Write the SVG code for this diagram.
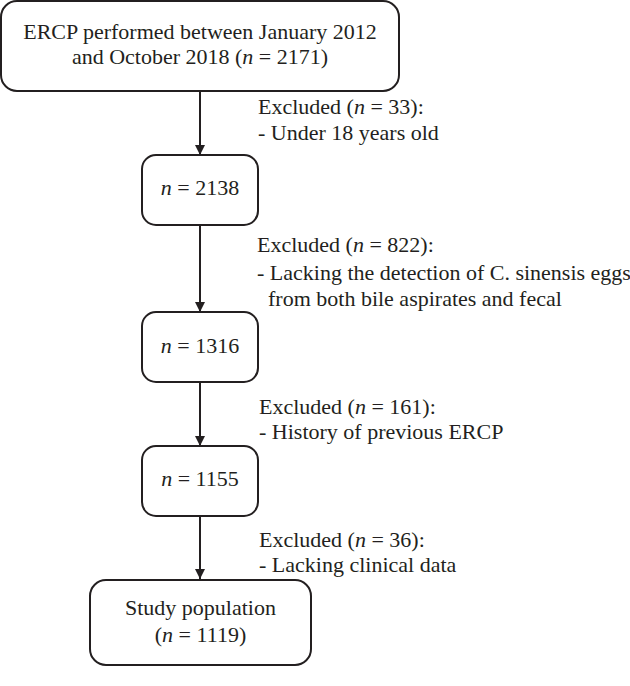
<svg xmlns="http://www.w3.org/2000/svg" width="630" height="686" viewBox="0 0 630 686">
<defs>
<style>
.box{fill:#fff;stroke:#231f20;stroke-width:2}
.t{font-family:"Liberation Serif","Times New Roman",serif;font-size:22px;fill:#231f20}
.c{text-anchor:middle}
.i{font-style:italic}
.ln{stroke:#231f20;stroke-width:2;fill:none}
</style>
<marker id="ah" viewBox="0 0 10 10" refX="10" refY="5" markerWidth="10" markerHeight="10" markerUnits="userSpaceOnUse" orient="auto">
<path d="M0,0 L10,5 L0,10 Z" fill="#231f20"/>
</marker>
</defs>
<rect width="630" height="686" fill="#fff"/>
<g id="connectors">
<line class="ln" x1="200" y1="91" x2="200" y2="155" marker-end="url(#ah)"/>
<line class="ln" x1="200" y1="225" x2="200" y2="312" marker-end="url(#ah)"/>
<line class="ln" x1="200" y1="382" x2="200" y2="446" marker-end="url(#ah)"/>
<line class="ln" x1="200" y1="516" x2="200" y2="579" marker-end="url(#ah)"/>
</g>
<g id="n0">
<rect class="box" x="1" y="1" width="398" height="90" rx="16"/>
<text class="t c" x="200" y="39">ERCP performed between January 2012</text>
<text class="t c" x="200" y="64">and October 2018 (<tspan class="i">n</tspan> = 2171)</text>
</g>
<g id="n1">
<rect class="box" x="142" y="155" width="116" height="70" rx="14"/>
<text class="t c" x="200" y="195"><tspan class="i">n</tspan> = 2138</text>
</g>
<g id="n2">
<rect class="box" x="142" y="312" width="116" height="70" rx="14"/>
<text class="t c" x="200" y="353"><tspan class="i">n</tspan> = 1316</text>
</g>
<g id="n3">
<rect class="box" x="142" y="446" width="116" height="70" rx="14"/>
<text class="t c" x="200" y="486"><tspan class="i">n</tspan> = 1155</text>
</g>
<g id="n4">
<rect class="box" x="90" y="580" width="221" height="85" rx="16"/>
<text class="t c" x="200.5" y="615">Study population</text>
<text class="t c" x="200.5" y="642">(<tspan class="i">n</tspan> = 1119)</text>
</g>
<g id="e1">
<text class="t" x="258" y="114">Excluded (<tspan class="i">n</tspan> = 33):</text>
<text class="t" x="258" y="140">- Under 18 years old</text>
</g>
<g id="e2">
<text class="t" x="257" y="252">Excluded (<tspan class="i">n</tspan> = 822):</text>
<text class="t" x="257" y="280">- Lacking the detection of C. sinensis eggs</text>
<text class="t" x="268" y="306">from both bile aspirates and fecal</text>
</g>
<g id="e3">
<text class="t" x="259" y="414">Excluded (<tspan class="i">n</tspan> = 161):</text>
<text class="t" x="259" y="439">- History of previous ERCP</text>
</g>
<g id="e4">
<text class="t" x="259" y="547">Excluded (<tspan class="i">n</tspan> = 36):</text>
<text class="t" x="259" y="572">- Lacking clinical data</text>
</g>
</svg>
